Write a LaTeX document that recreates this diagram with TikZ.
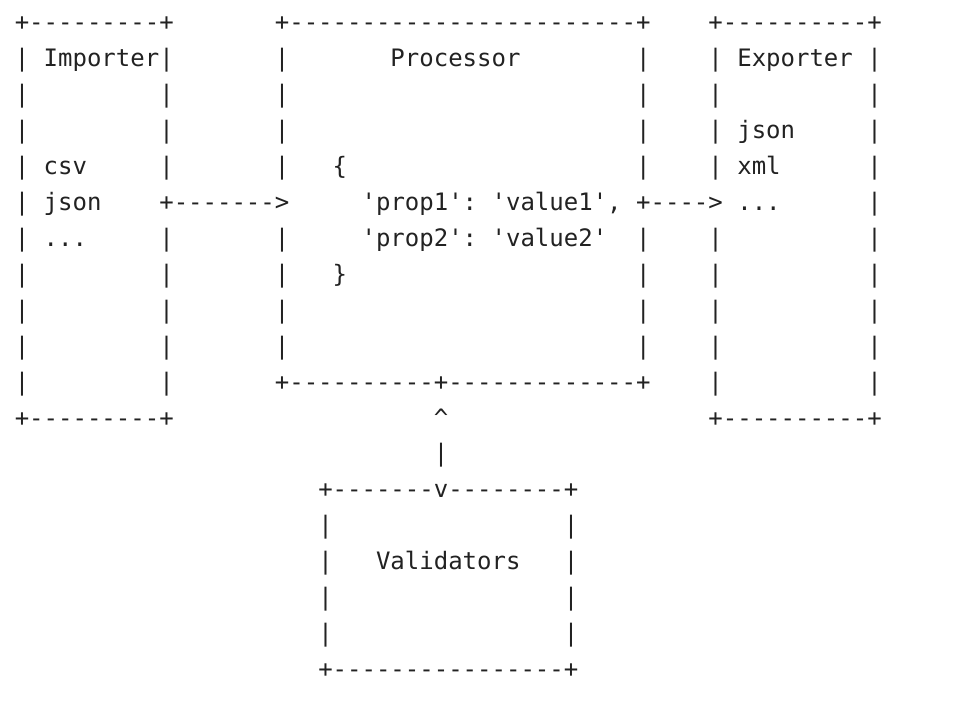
\documentclass[tikz,border=0pt]{standalone}
\usepackage{fontspec}
\setmonofont{DejaVu Sans Mono}
\definecolor{ink}{RGB}{34,34,34}
\newcommand\asciifont{\ttfamily\fontsize{24}{35.94}\selectfont}
\tikzset{asc/.style={anchor=base west, inner sep=0pt, outer sep=0pt, font=\asciifont, text=ink}}
\newcommand\asc[4]{\node[asc] (#1) at (#2,#3) {#4};}
\begin{document}
\begin{tikzpicture}
\useasboundingbox[fill=white] (0,0) rectangle (968pt,-704pt);
\begin{scope}[shift={(14.8pt,-30.7pt)}, x=14.45pt, y=-35.94pt]
% Importer
\asc{imp0}{0}{0}{+---------+}
\asc{imp1}{0}{1}{|~Importer|}
\asc{imp2}{0}{2}{|~~~~~~~~~|}
\asc{imp3}{0}{3}{|~~~~~~~~~|}
\asc{imp4}{0}{4}{|~csv~~~~~|}
\asc{imp5}{0}{5}{|~json}
\asc{imp6}{0}{6}{|~...~~~~~|}
\asc{imp7}{0}{7}{|~~~~~~~~~|}
\asc{imp8}{0}{8}{|~~~~~~~~~|}
\asc{imp9}{0}{9}{|~~~~~~~~~|}
\asc{imp10}{0}{10}{|~~~~~~~~~|}
\asc{imp11}{0}{11}{+---------+}
% arrow importer -> processor
\asc{arrA}{10}{5}{+------->}
% Processor
\asc{pro0}{18}{0}{+------------------------+}
\asc{pro1}{18}{1}{|~~~~~~~Processor~~~~~~~~|}
\asc{pro2}{18}{2}{|~~~~~~~~~~~~~~~~~~~~~~~~|}
\asc{pro3}{18}{3}{|~~~~~~~~~~~~~~~~~~~~~~~~|}
\asc{pro4}{18}{4}{|~~~\{~~~~~~~~~~~~~~~~~~~~|}
\asc{pro5}{24}{5}{'prop1':~'value1',}
\asc{pro6}{18}{6}{|~~~~~'prop2':~'value2'~~|}
\asc{pro7}{18}{7}{|~~~\}~~~~~~~~~~~~~~~~~~~~|}
\asc{pro8}{18}{8}{|~~~~~~~~~~~~~~~~~~~~~~~~|}
\asc{pro9}{18}{9}{|~~~~~~~~~~~~~~~~~~~~~~~~|}
\asc{pro10}{18}{10}{+----------+-------------+}
% arrow processor -> exporter
\asc{arrB}{43}{5}{+---->}
% Exporter
\asc{exp0}{48}{0}{+----------+}
\asc{exp1}{48}{1}{|~Exporter~|}
\asc{exp2}{48}{2}{|~~~~~~~~~~|}
\asc{exp3}{48}{3}{|~json~~~~~|}
\asc{exp4}{48}{4}{|~xml~~~~~~|}
\asc{exp5}{50}{5}{...~~~~~~|}
\asc{exp6}{48}{6}{|~~~~~~~~~~|}
\asc{exp7}{48}{7}{|~~~~~~~~~~|}
\asc{exp8}{48}{8}{|~~~~~~~~~~|}
\asc{exp9}{48}{9}{|~~~~~~~~~~|}
\asc{exp10}{48}{10}{|~~~~~~~~~~|}
\asc{exp11}{48}{11}{+----------+}
% arrow validators <-> processor
\asc{arrC1}{29}{11}{\textasciicircum}
\asc{arrC2}{29}{12}{|}
% Validators
\asc{val0}{21}{13}{+-------v--------+}
\asc{val1}{21}{14}{|~~~~~~~~~~~~~~~~|}
\asc{val2}{21}{15}{|~~~Validators~~~|}
\asc{val3}{21}{16}{|~~~~~~~~~~~~~~~~|}
\asc{val4}{21}{17}{|~~~~~~~~~~~~~~~~|}
\asc{val5}{21}{18}{+----------------+}
\end{scope}
\end{tikzpicture}
\end{document}
